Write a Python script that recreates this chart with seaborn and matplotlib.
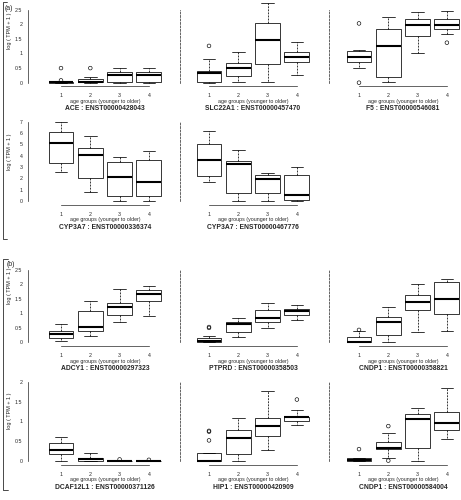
import numpy as np
import pandas as pd
import matplotlib
matplotlib.use('Agg')
import matplotlib.pyplot as plt
from matplotlib.lines import Line2D
import seaborn as sns

sns.set_style('white')
plt.rcParams['font.family'] = ['Liberation Sans', 'DejaVu Sans']

groups = [1, 2, 3, 4]
group_labels = ['1', '2', '3', '4']

# five-number summaries per age group: (min, q1, median, q3, max), plus outliers
ace_stats = [[0, 0, 0.01, 0.02, 0.03], [0, 0.01, 0.03, 0.11, 0.18],
             [0, 0.01, 0.25, 0.37, 0.5], [0, 0.01, 0.26, 0.37, 0.5]]
ace_out = [[0.08, 0.5], [0.5], [], []]

slc22a1_stats = [[0, 0.03, 0.32, 0.41, 0.80], [0.02, 0.24, 0.49, 0.68, 1.05],
                 [0.02, 0.63, 1.46, 2.03, 2.74], [0.26, 0.71, 0.87, 1.06, 1.40]]
slc22a1_out = [[1.26], [], [], []]

f5_stats = [[0.49, 0.70, 0.87, 1.10, 1.12], [0.02, 0.21, 1.26, 1.84, 2.24],
            [1.03, 1.60, 1.97, 2.17, 2.41], [1.68, 1.83, 1.97, 2.17, 2.47]]
f5_out = [[0.0, 2.03], [], [], [1.37]]

cyp3a7_a_stats = [[2.53, 3.32, 5.12, 6.12, 7.0], [0.76, 2.0, 4.03, 4.65, 5.76],
                  [0, 0.44, 2.15, 3.44, 3.85], [0, 0.41, 1.65, 3.62, 4.38]]
cyp3a7_a_out = [[], [], [], []]

cyp3a7_b_stats = [[1.7, 2.2, 3.62, 5.0, 6.18], [0, 0.68, 3.29, 3.56, 4.53],
                  [0, 0.74, 1.91, 2.26, 2.5], [0, 0.09, 0.53, 2.32, 3.03]]
cyp3a7_b_out = [[], [], [], []]

adcy1_stats = [[0.05, 0.14, 0.28, 0.37, 0.62], [0.21, 0.39, 0.53, 1.06, 1.44],
               [0.68, 0.94, 1.20, 1.35, 1.83], [0.92, 1.41, 1.68, 1.82, 1.94]]
adcy1_out = [[], [], [], []]

ptprd_stats = [[0, 0, 0.02, 0.14, 0.22], [0.18, 0.35, 0.62, 0.71, 0.83],
               [0.48, 0.71, 0.85, 1.11, 1.37], [0.76, 0.94, 1.08, 1.16, 1.27]]
ptprd_out = [[0.49, 0.52], [], [], []]

cndp1_a_stats = [[0, 0, 0.01, 0.18, 0.37], [0.01, 0.25, 0.71, 0.88, 1.23],
                 [0.35, 1.12, 1.40, 1.63, 2.0], [0.37, 0.97, 1.49, 2.07, 2.18]]
cndp1_a_out = [[0.42], [], [], []]

dcaf12l1_stats = [[0.01, 0.18, 0.29, 0.46, 0.61], [0, 0.01, 0.04, 0.08, 0.20],
                  [0, 0, 0.005, 0.01, 0.02], [0, 0, 0.005, 0.01, 0.02]]
dcaf12l1_out = [[], [], [0.04], [0.03]]

hip1_stats = [[0, 0, 0, 0.21, 0.21], [0.01, 0.18, 0.58, 0.77, 1.09],
              [0.29, 0.63, 0.88, 1.08, 1.76], [0.91, 1.01, 1.10, 1.12, 1.29]]
hip1_out = [[0.52, 0.74, 0.76], [], [], [1.55]]

cndp1_b_stats = [[0, 0, 0.02, 0.07, 0.08], [0.07, 0.30, 0.32, 0.47, 0.71],
                 [0.01, 0.34, 1.06, 1.18, 1.33], [0.55, 0.78, 0.97, 1.24, 1.83]]
cndp1_b_out = [[0.30], [0.01, 0.88], [], []]

ticks_a1 = [0, 0.5, 1, 1.5, 2, 2.5]
ticklabels_a1 = ['0', '0.5', '1', '1.5', '2', '2.5']
ticks_a2 = [0, 1, 2, 3, 4, 5, 6, 7]
ticklabels_a2 = ['0', '1', '2', '3', '4', '5', '6', '7']
ticks_b1 = [0, 0.5, 1, 1.5, 2, 2.5]
ticklabels_b1 = ['0', '0.5', '1', '1.5', '2', '2.5']
ticks_b2 = [0, 0.5, 1, 1.5, 2]
ticklabels_b2 = ['0', '0.5', '1', '1.5', '2']

# layout in pixels
W, H = 461, 500
col_x1 = [61, 209, 359]      # pixel of group 1 in each column
sx = 29.3                    # pixels per group
dash_x = [None, 180, 329]
# rows: pixel of y=0, pixels per unit, pixel of x axis line, top value, ticks, labels, ylabel centre
rows = {
    'a1': (82.7, 29.2, 86, 2.8, ticks_a1, ticklabels_a1, 31),
    'a2': (201, 11.33, 205, 7.25, ticks_a2, ticklabels_a2, 152),
    'b1': (342, 28.8, 346, 2.6, ticks_b1, ticklabels_b1, 286),
    'b2': (461, 39.65, 465, 2.05, ticks_b2, ticklabels_b2, 411),
}

panels = [
    ('a1', 0, 'ACE : ENST00000428043', ace_stats, ace_out),
    ('a1', 1, 'SLC22A1 : ENST00000457470', slc22a1_stats, slc22a1_out),
    ('a1', 2, 'F5 : ENST00000546081', f5_stats, f5_out),
    ('a2', 0, 'CYP3A7 : ENST00000336374', cyp3a7_a_stats, cyp3a7_a_out),
    ('a2', 1, 'CYP3A7 : ENST00000467776', cyp3a7_b_stats, cyp3a7_b_out),
    ('b1', 0, 'ADCY1 : ENST00000297323', adcy1_stats, adcy1_out),
    ('b1', 1, 'PTPRD : ENST00000358503', ptprd_stats, ptprd_out),
    ('b1', 2, 'CNDP1 : ENST00000358821', cndp1_a_stats, cndp1_a_out),
    ('b2', 0, 'DCAF12L1 : ENST00000371126', dcaf12l1_stats, dcaf12l1_out),
    ('b2', 1, 'HIP1 : ENST00000420909', hip1_stats, hip1_out),
    ('b2', 2, 'CNDP1 : ENST00000584004', cndp1_b_stats, cndp1_b_out),
]

fig = plt.figure(figsize=(W / 100, H / 100), dpi=100)
pt = 0.72  # points per pixel

for row, col, title, stats, outs in panels:
    y0, sy, axis_px, ytop, ticks, ticklabels, ylab_y = rows[row]
    left = col_x1[col] - 0.5 * sx
    top_px = y0 - ytop * sy
    ax = fig.add_axes([left / W, 1 - axis_px / H, 4 * sx / W, (axis_px - top_px) / H])

    df = pd.DataFrame({'group': np.repeat(groups, 5), 'value': np.concatenate(stats)})
    sns.boxplot(data=df, x='group', y='value', native_scale=True, whis=(0, 100),
                width=0.85, color='white', linecolor='black', linewidth=0.55,
                medianprops=dict(linewidth=1.5, color='black'),
                whiskerprops=dict(linestyle=(0, (2.5, 1.5)), linewidth=0.55),
                capprops=dict(linewidth=0.55), ax=ax)
    for g, vals in zip(groups, outs):
        if vals:
            ax.scatter([g] * len(vals), vals, s=7, facecolors='none',
                       edgecolors='black', linewidths=0.45, zorder=4)

    ax.set_xlim(0.5, 4.5)
    ax.set_ylim(-(axis_px - y0) / sy, ytop)
    ax.set_xlabel('')
    ax.set_ylabel('')
    ax.patch.set_alpha(0)
    for s in ['top', 'right']:
        ax.spines[s].set_visible(False)
    ax.spines['bottom'].set_bounds(1, 4)
    ax.spines['bottom'].set_linewidth(0.5)
    ax.set_xticks(groups)
    ax.set_xticklabels(group_labels)
    ax.tick_params(axis='x', length=2.5, width=0.5, pad=2.5, labelsize=3.8, direction='out')

    ax.spines['left'].set_bounds(ticks[0], ticks[-1])
    ax.spines['left'].set_linewidth(0.5)
    if col == 0:
        ax.spines['left'].set_position(('outward', (left - 28) * pt))
        ax.set_yticks(ticks)
        ax.set_yticklabels(ticklabels)
        ax.tick_params(axis='y', length=2.5, width=0.5, pad=1.5, labelsize=3.8, direction='out')
        fig.text(10 / W, 1 - ylab_y / H, 'log ( TPM + 1 )', rotation=90,
                 fontsize=4.0, ha='center', va='center')
    else:
        ax.spines['left'].set_position(('outward', (left - dash_x[col]) * pt))
        ax.spines['left'].set_linestyle((0, (3, 2)))
        ax.tick_params(axis='y', left=False, labelleft=False)

    cx = (col_x1[col] + 1.5 * sx) / W
    fig.text(cx, 1 - (axis_px + 15) / H, 'age groups (younger to older)',
             fontsize=3.8, ha='center', va='center')
    fig.text(cx, 1 - (axis_px + 22.5) / H, title, fontsize=4.9,
             fontweight='bold', ha='center', va='center')

# section labels and brackets
fig.text(5 / W, 1 - 8 / H, '(a)', fontsize=5, ha='left', va='center')
fig.text(7 / W, 1 - 264 / H, '(b)', fontsize=5, ha='left', va='center')
for xs, ys in [([7, 3, 3, 7], [2, 2, 239, 239]), ([8, 3, 3, 8], [259, 259, 490, 490])]:
    fig.add_artist(Line2D([x / W for x in xs], [1 - y / H for y in ys],
                          color='black', linewidth=0.5))

fig.savefig('out.png', dpi=100)
